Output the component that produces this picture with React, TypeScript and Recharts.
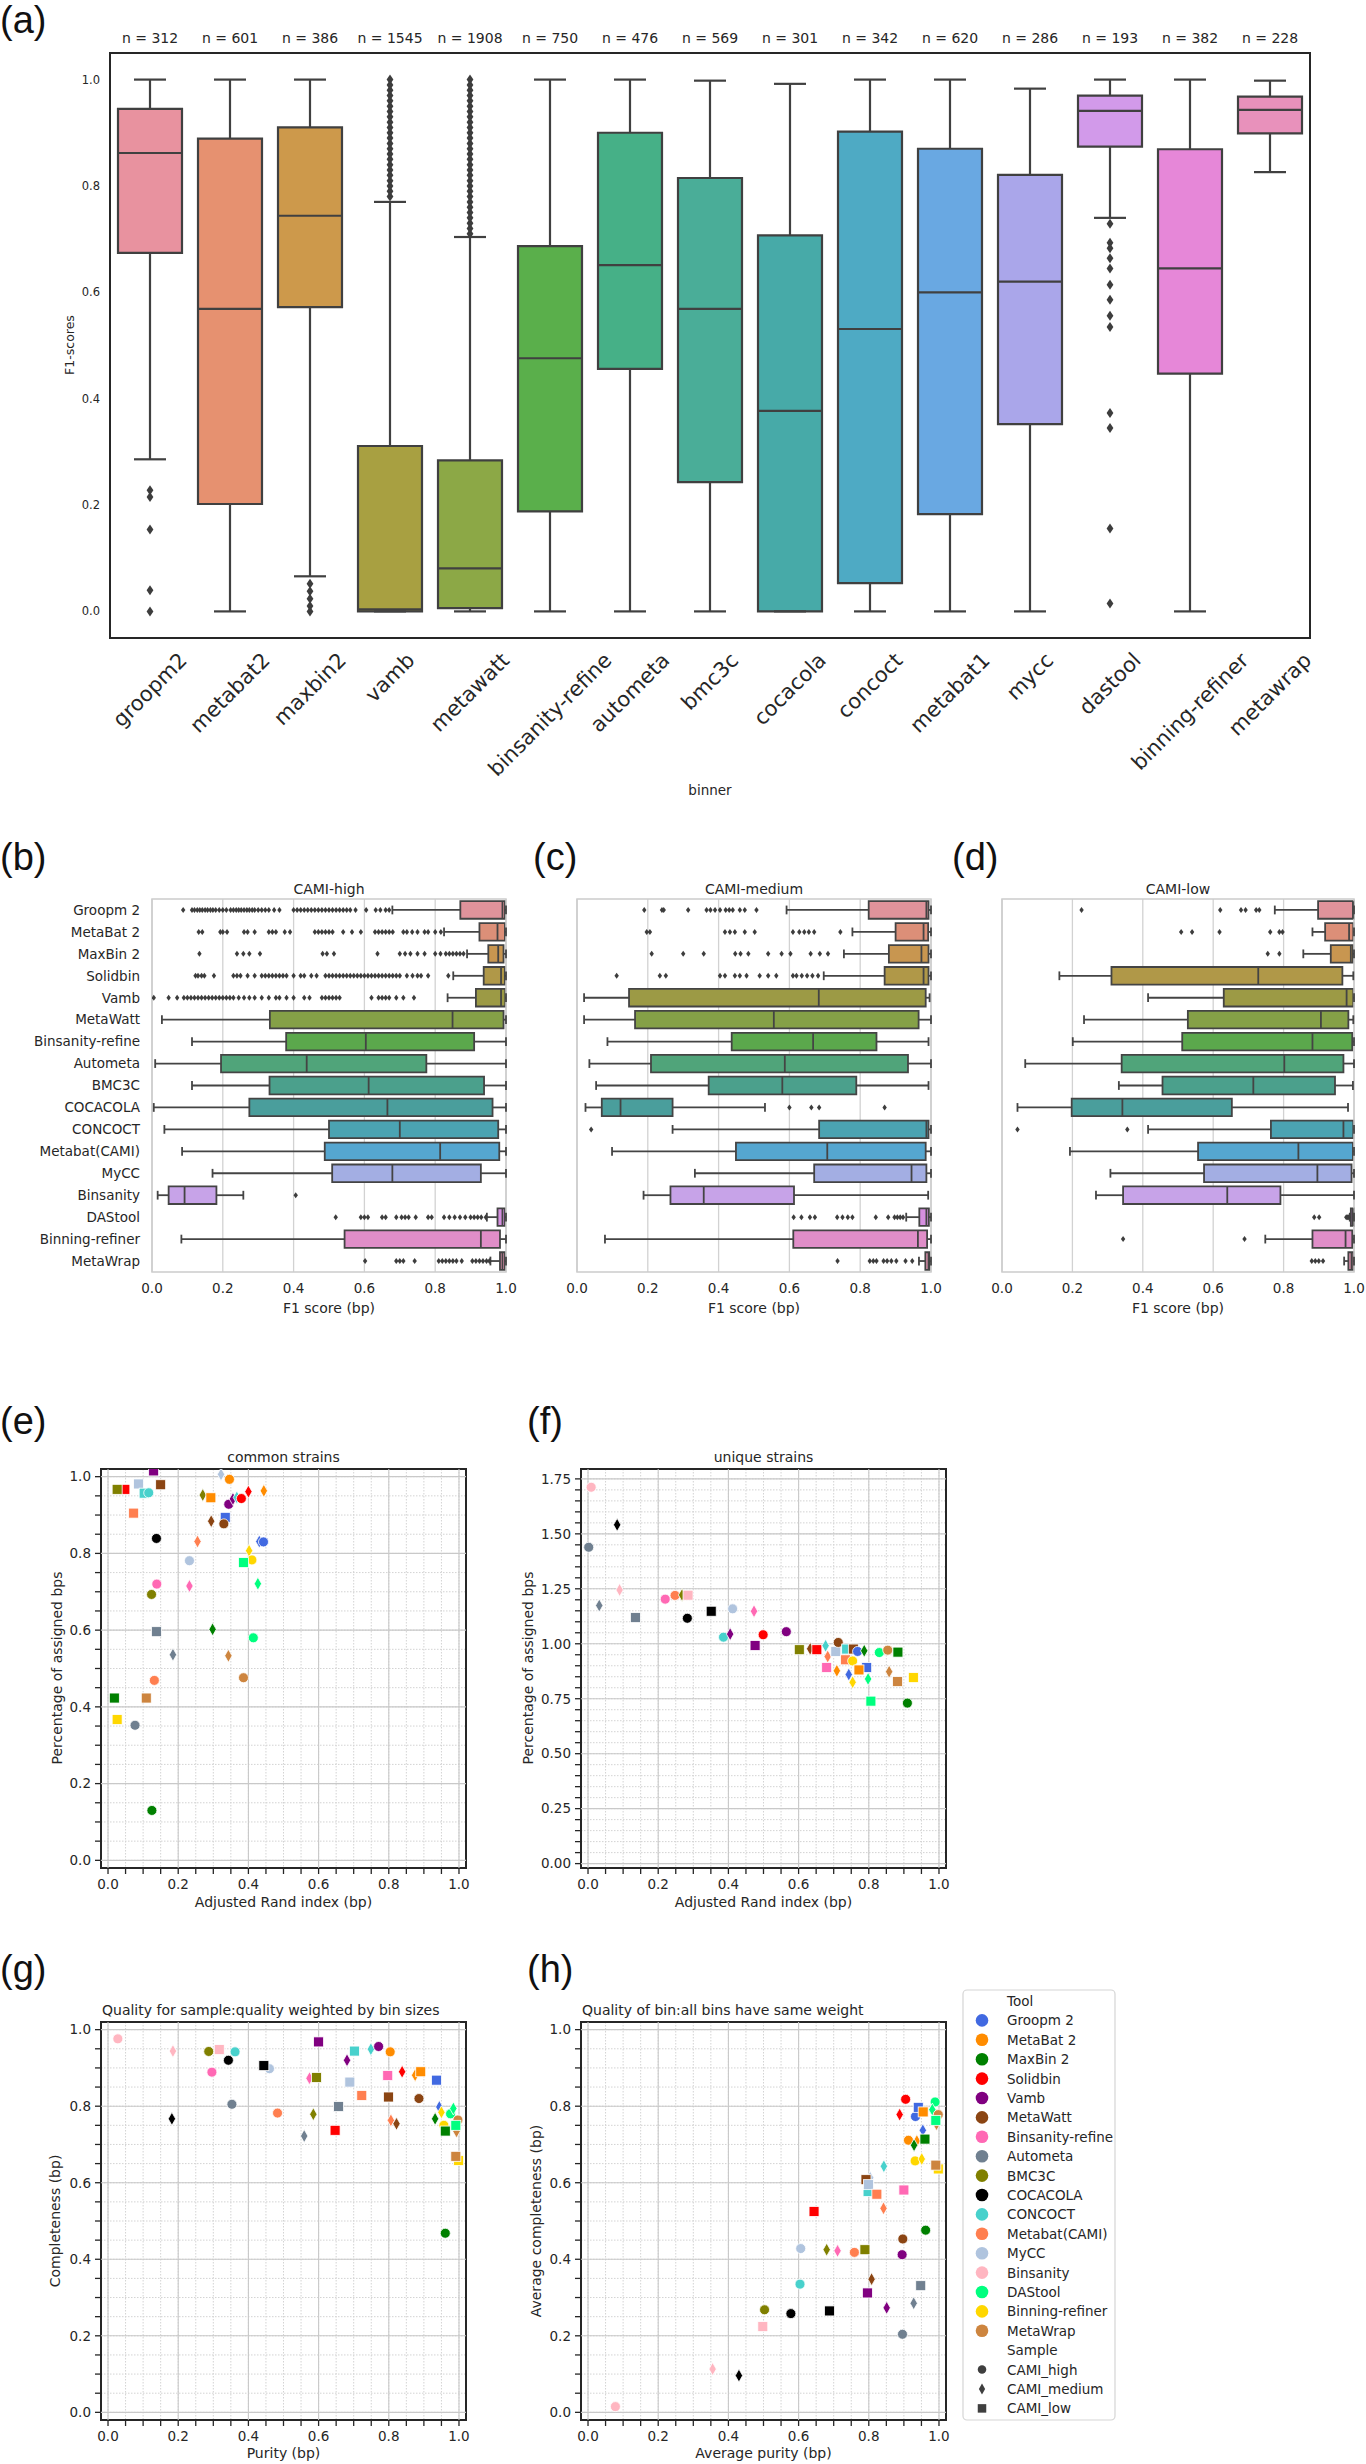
import React from 'react';
import { ScatterChart, Scatter, XAxis, YAxis, ReferenceArea, ReferenceLine, CartesianGrid } from 'recharts';

const FONT = '"DejaVu Sans", sans-serif';
const LETTER_FONT = '"Liberation Sans", Arial, sans-serif';
const INK = '#262626';

// ---------------- Panel (a) ----------------
const A_BINNERS = ['groopm2', 'metabat2', 'maxbin2', 'vamb', 'metawatt', 'binsanity-refine', 'autometa', 'bmc3c', 'cocacola', 'concoct', 'metabat1', 'mycc', 'dastool', 'binning-refiner', 'metawrap'];
const A_COUNTS = [312, 601, 386, 1545, 1908, 750, 476, 569, 301, 342, 620, 286, 193, 382, 228];
const A_LOW = [0.286, 0, 0.066, 0, 0, 0, 0, 0, 0, 0, 0, 0, 0.74, 0, 0.826];
const A_Q1 = [0.674, 0.202, 0.572, 0.0, 0.006, 0.188, 0.456, 0.243, 0.0, 0.053, 0.183, 0.352, 0.874, 0.447, 0.899];
const A_MED = [0.862, 0.569, 0.744, 0.004, 0.081, 0.476, 0.651, 0.569, 0.377, 0.531, 0.6, 0.62, 0.941, 0.645, 0.943];
const A_Q3 = [0.945, 0.889, 0.91, 0.311, 0.284, 0.687, 0.9, 0.815, 0.707, 0.902, 0.87, 0.821, 0.97, 0.869, 0.968];
const A_HIGH = [1.0, 1.0, 1.0, 0.77, 0.704, 1.0, 1.0, 0.998, 0.992, 1.0, 1.0, 0.983, 1.0, 1.0, 0.998];
const A_OUTLIERS: number[][] = [
  [0.228, 0.215, 0.154, 0.04, 0.0],
  [],
  [0.052, 0.038, 0.024, 0.01, 0.0],
  [0.78, 0.79, 0.8, 0.81, 0.82, 0.83, 0.84, 0.85, 0.86, 0.87, 0.88, 0.89, 0.9, 0.91, 0.92, 0.93, 0.94, 0.95, 0.96, 0.97, 0.98, 0.99, 1.0],
  [0.71, 0.72, 0.73, 0.74, 0.75, 0.76, 0.77, 0.78, 0.79, 0.8, 0.81, 0.82, 0.83, 0.84, 0.85, 0.86, 0.87, 0.88, 0.89, 0.9, 0.91, 0.92, 0.93, 0.94, 0.95, 0.96, 0.97, 0.98, 0.99, 1.0],
  [], [], [], [], [], [], [],
  [0.729, 0.693, 0.683, 0.664, 0.645, 0.614, 0.586, 0.556, 0.535, 0.373, 0.345, 0.156, 0.015],
  [], [],
];
const A_COLORS = ['#e8929f', '#e69170', '#cd994b', '#a8a041', '#8ca846', '#5aaf4b', '#46b087', '#4aad98', '#47aaa8', '#4eaac4', '#69a8e2', '#aaa6ea', '#d29aea', '#e687d8', '#e891bb'];
const A_YTICKS = [0, 0.2, 0.4, 0.6, 0.8, 1.0];
const A_IDX = [0, 1, 2, 3, 4, 5, 6, 7, 8, 9, 10, 11, 12, 13, 14];

// ---------------- Panels (b)-(d) ----------------
const TOOLS = ['Groopm 2', 'MetaBat 2', 'MaxBin 2', 'Solidbin', 'Vamb', 'MetaWatt', 'Binsanity-refine', 'Autometa', 'BMC3C', 'COCACOLA', 'CONCOCT', 'Metabat(CAMI)', 'MyCC', 'Binsanity', 'DAStool', 'Binning-refiner', 'MetaWrap'];
const ROW_IDX = [0, 1, 2, 3, 4, 5, 6, 7, 8, 9, 10, 11, 12, 13, 14, 15, 16];
const B_COLORS = ['#e0939b', '#dc8f78', '#c89650', '#b09848', '#9c9a45', '#85a047', '#5ba84c', '#50a47a', '#4ba08c', '#4a9e9c', '#4ba3b2', '#55a6d0', '#a3aee3', '#c7a3e8', '#d58fdf', '#e08ec8', '#e090ae'];
const F1_TICKS = [0, 0.2, 0.4, 0.6, 0.8, 1.0];

const HIGH_LO = [0.679, 0.825, 0.89, 0.851, 0.835, 0.028, 0.113, 0.009, 0.113, 0.005, 0.035, 0.085, 0.171, 0.016, 0.946, 0.083, 0.956];
const HIGH_Q1 = [0.871, 0.925, 0.95, 0.937, 0.915, 0.333, 0.379, 0.195, 0.332, 0.275, 0.5, 0.488, 0.509, 0.047, 0.976, 0.544, 0.983];
const HIGH_MED = [0.99, 0.976, 0.978, 0.986, 0.986, 0.849, 0.604, 0.437, 0.612, 0.665, 0.7, 0.814, 0.679, 0.092, 0.99, 0.929, 0.99];
const HIGH_Q3 = [0.997, 0.997, 0.993, 0.997, 0.998, 0.993, 0.91, 0.775, 0.938, 0.962, 0.978, 0.981, 0.929, 0.182, 0.997, 0.983, 0.997];
const HIGH_HI = [1, 1, 1, 1, 1, 1, 1, 1, 1, 1, 1, 1, 1, 0.258, 1, 1, 1];
const HIGH_OUT: number[][] = [
  [0.088, 0.113, 0.12, 0.128, 0.135, 0.142, 0.15, 0.157, 0.165, 0.172, 0.18, 0.19, 0.2, 0.21, 0.222, 0.23, 0.238, 0.245, 0.252, 0.26, 0.268, 0.275, 0.283, 0.29, 0.3, 0.31, 0.32, 0.33, 0.345, 0.36, 0.4, 0.41, 0.42, 0.43, 0.44, 0.45, 0.46, 0.47, 0.48, 0.49, 0.5, 0.51, 0.52, 0.53, 0.54, 0.55, 0.56, 0.575, 0.605, 0.632, 0.645, 0.66, 0.67],
  [0.132, 0.142, 0.193, 0.2, 0.212, 0.26, 0.27, 0.29, 0.33, 0.34, 0.35, 0.375, 0.39, 0.46, 0.47, 0.48, 0.49, 0.5, 0.51, 0.54, 0.565, 0.59, 0.63, 0.64, 0.65, 0.66, 0.67, 0.68, 0.71, 0.72, 0.735, 0.75, 0.77, 0.78, 0.8, 0.816],
  [0.134, 0.24, 0.258, 0.275, 0.305, 0.482, 0.494, 0.514, 0.637, 0.7, 0.715, 0.73, 0.75, 0.77, 0.8, 0.815, 0.83, 0.84, 0.85, 0.86, 0.87, 0.88],
  [0.123, 0.13, 0.14, 0.148, 0.175, 0.23, 0.24, 0.25, 0.27, 0.29, 0.31, 0.32, 0.33, 0.34, 0.35, 0.36, 0.37, 0.38, 0.4, 0.42, 0.43, 0.45, 0.465, 0.49, 0.5, 0.51, 0.52, 0.53, 0.54, 0.55, 0.56, 0.57, 0.58, 0.59, 0.6, 0.61, 0.62, 0.63, 0.64, 0.65, 0.66, 0.67, 0.68, 0.69, 0.7, 0.72, 0.736, 0.75, 0.76, 0.78, 0.837],
  [0.005, 0.047, 0.071, 0.09, 0.1, 0.11, 0.12, 0.13, 0.14, 0.15, 0.16, 0.17, 0.18, 0.19, 0.2, 0.21, 0.22, 0.23, 0.245, 0.26, 0.275, 0.29, 0.31, 0.33, 0.35, 0.36, 0.38, 0.4, 0.43, 0.445, 0.48, 0.49, 0.5, 0.51, 0.52, 0.53, 0.62, 0.64, 0.65, 0.66, 0.67, 0.69, 0.71, 0.74],
  [], [], [], [], [], [], [], [],
  [0.406],
  [0.519, 0.59, 0.6, 0.61, 0.65, 0.66, 0.69, 0.705, 0.715, 0.725, 0.745, 0.78, 0.79, 0.825, 0.84, 0.855, 0.87, 0.885, 0.9, 0.91, 0.92, 0.93, 0.943],
  [],
  [0.602, 0.69, 0.7, 0.71, 0.742, 0.81, 0.82, 0.83, 0.84, 0.85, 0.86, 0.875, 0.905, 0.915, 0.925, 0.935, 0.945, 0.953],
];

const MED_LO = [0.592, 0.778, 0.754, 0.697, 0.02, 0.02, 0.086, 0.035, 0.054, 0.024, 0.27, 0.099, 0.333, 0.188, 0.93, 0.079, 0.966];
const MED_Q1 = [0.824, 0.9, 0.881, 0.869, 0.147, 0.164, 0.437, 0.209, 0.372, 0.07, 0.684, 0.449, 0.67, 0.264, 0.967, 0.611, 0.984];
const MED_MED = [0.987, 0.979, 0.973, 0.979, 0.683, 0.556, 0.667, 0.587, 0.58, 0.123, 0.987, 0.707, 0.945, 0.358, 0.987, 0.963, 0.993];
const MED_Q3 = [0.993, 0.992, 0.993, 0.993, 0.985, 0.965, 0.846, 0.935, 0.789, 0.27, 0.993, 0.985, 0.987, 0.613, 0.994, 0.989, 0.996];
const MED_HI = [1, 1, 1, 1, 0.996, 1, 0.993, 1, 0.993, 0.531, 1, 1, 1, 0.992, 1, 1, 1];
const MED_OUT: number[][] = [
  [0.19, 0.24, 0.245, 0.314, 0.366, 0.377, 0.39, 0.404, 0.42, 0.43, 0.44, 0.46, 0.474, 0.507],
  [0.197, 0.206, 0.418, 0.432, 0.446, 0.474, 0.502, 0.61, 0.628, 0.642, 0.655, 0.67, 0.744],
  [0.211, 0.3, 0.358, 0.447, 0.462, 0.484, 0.54, 0.578, 0.603, 0.66, 0.686, 0.709],
  [0.112, 0.234, 0.251, 0.404, 0.418, 0.446, 0.46, 0.479, 0.516, 0.54, 0.563, 0.61, 0.62, 0.635, 0.65, 0.665, 0.681],
  [], [], [], [], [],
  [0.6, 0.662, 0.684, 0.869],
  [0.04],
  [], [], [],
  [0.612, 0.634, 0.658, 0.672, 0.735, 0.75, 0.765, 0.778, 0.844, 0.879, 0.897, 0.905, 0.913, 0.921],
  [],
  [0.736, 0.827, 0.837, 0.846, 0.866, 0.876, 0.888, 0.902, 0.928, 0.947],
];

const LOW_LO = [0.775, 0.882, 0.856, 0.163, 0.415, 0.233, 0.201, 0.066, 0.332, 0.044, 0.415, 0.193, 0.308, 0.267, 0.988, 0.748, 0.972];
const LOW_Q1 = [0.898, 0.918, 0.934, 0.311, 0.63, 0.528, 0.512, 0.34, 0.456, 0.198, 0.764, 0.557, 0.574, 0.344, 0.991, 0.882, 0.984];
const LOW_MED = [0.997, 0.986, 0.991, 0.728, 0.979, 0.906, 0.882, 0.802, 0.714, 0.342, 0.97, 0.842, 0.896, 0.64, 0.996, 0.976, 0.993];
const LOW_Q3 = [0.999, 0.998, 0.997, 0.967, 0.998, 0.984, 0.995, 0.97, 0.946, 0.653, 0.998, 0.997, 0.993, 0.791, 1.0, 0.995, 0.998];
const LOW_HI = [1, 1, 1, 0.998, 1, 0.998, 1, 1, 0.997, 0.983, 1, 1, 1, 1, 1, 1, 1];
const LOW_OUT: number[][] = [
  [0.226, 0.62, 0.679, 0.692, 0.722, 0.731],
  [0.509, 0.54, 0.618, 0.762, 0.788, 0.797],
  [0.755, 0.788],
  [], [], [], [], [], [], [],
  [0.044, 0.356],
  [], [], [],
  [0.887, 0.901, 0.978, 0.982, 0.985],
  [0.344, 0.689],
  [0.88, 0.89, 0.9, 0.912],
];

// ---------------- Panels (e)-(h) ----------------
const SCATTER_COLORS = ['#4169e1', '#ff8c00', '#008000', '#ff0000', '#800080', '#8b4513', '#ff69b4', '#708090', '#808000', '#000000', '#48d1cc', '#ff7f50', '#b0c4de', '#ffb6c1', '#00ff7f', '#ffd700', '#cd853f'];
const SAMPLES = ['CAMI_high', 'CAMI_medium', 'CAMI_low'];
const UNIT_MINOR = [0, 0.05, 0.1, 0.15, 0.2, 0.25, 0.3, 0.35, 0.4, 0.45, 0.5, 0.55, 0.6, 0.65, 0.7, 0.75, 0.8, 0.85, 0.9, 0.95, 1.0];
const UNIT_MAJOR = [0, 0.2, 0.4, 0.6, 0.8, 1.0];
const F_MINOR = [0, 0.05, 0.1, 0.15, 0.2, 0.25, 0.3, 0.35, 0.4, 0.45, 0.5, 0.55, 0.6, 0.65, 0.7, 0.75, 0.8, 0.85, 0.9, 0.95, 1.0, 1.05, 1.1, 1.15, 1.2, 1.25, 1.3, 1.35, 1.4, 1.45, 1.5, 1.55, 1.6, 1.65, 1.7, 1.75];
const F_MAJOR = [0, 0.25, 0.5, 0.75, 1.0, 1.25, 1.5, 1.75];

type Pt = [string, string, number, number];
const COMMON_PTS: Pt[] = [
  ['Vamb', 'l', 0.13, 1.015], ['MyCC', 'm', 0.322, 1.006], ['MetaBat 2', 'h', 0.346, 0.993],
  ['Solidbin', 'l', 0.048, 0.967], ['BMC3C', 'l', 0.026, 0.967], ['MyCC', 'l', 0.087, 0.981], ['MetaWatt', 'l', 0.15, 0.979],
  ['CONCOCT', 'l', 0.103, 0.957], ['CONCOCT', 'h', 0.116, 0.958], ['Metabat(CAMI)', 'l', 0.073, 0.905],
  ['BMC3C', 'm', 0.27, 0.952], ['MetaBat 2', 'l', 0.293, 0.945], ['Vamb', 'h', 0.344, 0.928], ['Vamb', 'm', 0.356, 0.942],
  ['CONCOCT', 'm', 0.367, 0.946], ['Solidbin', 'h', 0.38, 0.943], ['Solidbin', 'm', 0.4, 0.961], ['MetaBat 2', 'm', 0.444, 0.963],
  ['Groopm 2', 'l', 0.334, 0.894], ['MetaWatt', 'm', 0.294, 0.884], ['MetaWatt', 'h', 0.33, 0.877], ['COCACOLA', 'h', 0.138, 0.839],
  ['Metabat(CAMI)', 'm', 0.255, 0.831], ['Groopm 2', 'm', 0.431, 0.831], ['Groopm 2', 'h', 0.443, 0.83],
  ['Binning-refiner', 'm', 0.402, 0.807], ['Binning-refiner', 'h', 0.41, 0.783], ['DAStool', 'l', 0.386, 0.776], ['MyCC', 'h', 0.232, 0.781],
  ['Binsanity-refine', 'h', 0.139, 0.72], ['Binsanity-refine', 'm', 0.232, 0.715], ['DAStool', 'm', 0.427, 0.721], ['BMC3C', 'h', 0.124, 0.693],
  ['Autometa', 'l', 0.138, 0.596], ['MaxBin 2', 'm', 0.298, 0.602], ['DAStool', 'h', 0.414, 0.58], ['Autometa', 'm', 0.185, 0.536],
  ['MetaWrap', 'm', 0.343, 0.533], ['Metabat(CAMI)', 'h', 0.132, 0.469], ['MetaWrap', 'h', 0.386, 0.476], ['MaxBin 2', 'l', 0.018, 0.423],
  ['MetaWrap', 'l', 0.109, 0.423], ['Binning-refiner', 'l', 0.026, 0.367], ['Autometa', 'h', 0.077, 0.352], ['MaxBin 2', 'h', 0.125, 0.13],
];
const UNIQUE_PTS: Pt[] = [
  ['Binsanity', 'h', 0.009, 1.712], ['COCACOLA', 'm', 0.083, 1.541], ['Autometa', 'h', 0.002, 1.439], ['Binsanity', 'm', 0.09, 1.245],
  ['Autometa', 'm', 0.032, 1.174], ['Autometa', 'l', 0.135, 1.119], ['Binsanity-refine', 'h', 0.22, 1.203], ['Metabat(CAMI)', 'h', 0.248, 1.22],
  ['BMC3C', 'm', 0.268, 1.222], ['Binsanity', 'l', 0.285, 1.221], ['COCACOLA', 'h', 0.283, 1.116], ['COCACOLA', 'l', 0.351, 1.148],
  ['MyCC', 'h', 0.412, 1.159], ['Binsanity-refine', 'm', 0.473, 1.148], ['CONCOCT', 'h', 0.386, 1.03], ['Vamb', 'm', 0.405, 1.044],
  ['Solidbin', 'h', 0.499, 1.041], ['Vamb', 'l', 0.476, 0.992], ['Vamb', 'h', 0.565, 1.055], ['BMC3C', 'l', 0.602, 0.973],
  ['MetaWatt', 'm', 0.633, 0.977], ['Solidbin', 'l', 0.652, 0.973], ['CONCOCT', 'm', 0.677, 0.991], ['Metabat(CAMI)', 'm', 0.683, 0.942],
  ['MyCC', 'l', 0.706, 0.965], ['MetaWatt', 'h', 0.713, 1.006], ['CONCOCT', 'l', 0.737, 0.976], ['MetaWatt', 'l', 0.756, 0.976],
  ['Groopm 2', 'h', 0.768, 0.965], ['MaxBin 2', 'm', 0.787, 0.968], ['DAStool', 'h', 0.83, 0.96], ['MetaWrap', 'h', 0.854, 0.971],
  ['MaxBin 2', 'l', 0.883, 0.962], ['Binsanity-refine', 'l', 0.68, 0.892], ['MetaBat 2', 'm', 0.709, 0.877], ['Metabat(CAMI)', 'l', 0.734, 0.927],
  ['Binning-refiner', 'h', 0.754, 0.922], ['Groopm 2', 'l', 0.794, 0.892], ['Groopm 2', 'm', 0.743, 0.86], ['MetaBat 2', 'l', 0.772, 0.881],
  ['Binning-refiner', 'm', 0.754, 0.825], ['DAStool', 'm', 0.798, 0.84], ['MetaWrap', 'm', 0.858, 0.873], ['MetaWrap', 'l', 0.882, 0.828],
  ['Binning-refiner', 'l', 0.927, 0.846], ['DAStool', 'l', 0.806, 0.739], ['MaxBin 2', 'h', 0.91, 0.73],
];
const SAMPLE_PTS: Pt[] = [
  ['Binsanity', 'h', 0.028, 0.976], ['Binsanity', 'm', 0.185, 0.944], ['BMC3C', 'h', 0.287, 0.943], ['Binsanity', 'l', 0.317, 0.948],
  ['CONCOCT', 'h', 0.362, 0.942], ['COCACOLA', 'h', 0.343, 0.92], ['Binsanity-refine', 'h', 0.296, 0.889], ['COCACOLA', 'm', 0.182, 0.767],
  ['Autometa', 'h', 0.353, 0.805], ['MyCC', 'h', 0.46, 0.898], ['COCACOLA', 'l', 0.444, 0.906], ['Metabat(CAMI)', 'h', 0.483, 0.782],
  ['Vamb', 'l', 0.6, 0.968], ['Binsanity-refine', 'm', 0.574, 0.873], ['BMC3C', 'l', 0.594, 0.875], ['BMC3C', 'm', 0.585, 0.779],
  ['Autometa', 'm', 0.559, 0.722], ['Autometa', 'l', 0.657, 0.799], ['Solidbin', 'l', 0.647, 0.737], ['MyCC', 'l', 0.689, 0.863],
  ['Vamb', 'm', 0.681, 0.92], ['CONCOCT', 'l', 0.702, 0.944], ['Metabat(CAMI)', 'l', 0.723, 0.828], ['CONCOCT', 'm', 0.749, 0.949],
  ['Vamb', 'h', 0.771, 0.956], ['MetaBat 2', 'h', 0.804, 0.942], ['Binsanity-refine', 'l', 0.797, 0.88], ['MetaWatt', 'l', 0.799, 0.824],
  ['Metabat(CAMI)', 'm', 0.806, 0.763], ['MetaWatt', 'm', 0.822, 0.754], ['Solidbin', 'm', 0.838, 0.89], ['MetaBat 2', 'm', 0.875, 0.881],
  ['MetaBat 2', 'l', 0.891, 0.89], ['MetaWatt', 'h', 0.886, 0.82], ['Groopm 2', 'l', 0.936, 0.868], ['Groopm 2', 'm', 0.944, 0.798],
  ['Binning-refiner', 'm', 0.95, 0.784], ['MaxBin 2', 'm', 0.932, 0.767], ['Binning-refiner', 'h', 0.957, 0.75], ['DAStool', 'h', 0.976, 0.78],
  ['DAStool', 'm', 0.984, 0.794], ['MetaWrap', 'h', 0.997, 0.764], ['MetaWrap', 'm', 0.993, 0.734], ['MaxBin 2', 'l', 0.961, 0.735],
  ['DAStool', 'l', 0.991, 0.75], ['Binning-refiner', 'l', 0.999, 0.658], ['MetaWrap', 'l', 0.991, 0.669], ['MaxBin 2', 'h', 0.961, 0.468],
];
const BIN_PTS: Pt[] = [
  ['Binsanity', 'h', 0.078, 0.015], ['Binsanity', 'm', 0.355, 0.113], ['COCACOLA', 'm', 0.43, 0.096], ['Binsanity', 'l', 0.498, 0.224],
  ['BMC3C', 'h', 0.503, 0.268], ['COCACOLA', 'h', 0.578, 0.258], ['COCACOLA', 'l', 0.688, 0.265], ['CONCOCT', 'h', 0.604, 0.335],
  ['MyCC', 'h', 0.606, 0.428], ['BMC3C', 'm', 0.68, 0.425], ['Binsanity-refine', 'm', 0.711, 0.422], ['Metabat(CAMI)', 'h', 0.759, 0.418],
  ['BMC3C', 'l', 0.789, 0.425], ['Solidbin', 'l', 0.644, 0.525], ['Vamb', 'l', 0.796, 0.312], ['MetaWatt', 'm', 0.808, 0.348],
  ['Vamb', 'm', 0.851, 0.273], ['Autometa', 'h', 0.896, 0.204], ['Autometa', 'm', 0.928, 0.285], ['Autometa', 'l', 0.948, 0.331],
  ['Vamb', 'h', 0.895, 0.412], ['MetaWatt', 'h', 0.897, 0.453], ['MaxBin 2', 'h', 0.962, 0.476], ['CONCOCT', 'm', 0.843, 0.643],
  ['MyCC', 'm', 0.804, 0.613], ['CONCOCT', 'l', 0.798, 0.577], ['MetaWatt', 'l', 0.792, 0.608], ['MyCC', 'l', 0.799, 0.595],
  ['Metabat(CAMI)', 'l', 0.823, 0.57], ['Metabat(CAMI)', 'm', 0.842, 0.533], ['Binsanity-refine', 'l', 0.9, 0.581],
  ['Solidbin', 'h', 0.905, 0.818], ['Solidbin', 'm', 0.888, 0.778], ['Groopm 2', 'h', 0.933, 0.773], ['Groopm 2', 'l', 0.941, 0.797],
  ['MetaBat 2', 'l', 0.955, 0.785], ['Groopm 2', 'm', 0.954, 0.737], ['MetaBat 2', 'h', 0.913, 0.711], ['MetaBat 2', 'm', 0.937, 0.709],
  ['MaxBin 2', 'm', 0.929, 0.698], ['MaxBin 2', 'l', 0.96, 0.714], ['DAStool', 'h', 0.989, 0.811], ['DAStool', 'm', 0.981, 0.791],
  ['MetaWrap', 'h', 0.998, 0.778], ['MetaWrap', 'm', 0.993, 0.753], ['DAStool', 'l', 0.991, 0.763], ['Binning-refiner', 'h', 0.932, 0.657],
  ['Binning-refiner', 'm', 0.951, 0.662], ['Binning-refiner', 'l', 0.998, 0.636], ['MetaWrap', 'l', 0.991, 0.646],
];

// ---------------- helpers ----------------
const TOOL_COLOR: Record<string, string> = {};
TOOLS.forEach((t, i) => { TOOL_COLOR[t] = SCATTER_COLORS[i]; });

let measureCtx: any = null;
function textWidth(s: string, fs: number) {
  if (!measureCtx && typeof document !== 'undefined') {
    const c = document.createElement('canvas');
    measureCtx = c.getContext('2d');
  }
  if (!measureCtx) return s.length * fs * 0.6;
  measureCtx.font = `${fs}px "DejaVu Sans"`;
  return measureCtx.measureText(s).width;
}

const isMult = (v: number, step: number) => Math.abs(v / step - Math.round(v / step)) < 1e-6;

const A_LINE = '#404040';
function vBox(i: number) {
  const lw = 2.2;
  const c = { stroke: A_LINE, strokeWidth: lw, ifOverflow: 'visible' as const };
  return [
    <ReferenceLine key={`a-wl-${i}`} segment={[{ x: i, y: A_LOW[i] }, { x: i, y: A_Q1[i] }]} {...c} />,
    <ReferenceLine key={`a-wh-${i}`} segment={[{ x: i, y: A_Q3[i] }, { x: i, y: A_HIGH[i] }]} {...c} />,
    <ReferenceLine key={`a-cl-${i}`} segment={[{ x: i - 0.2, y: A_LOW[i] }, { x: i + 0.2, y: A_LOW[i] }]} {...c} />,
    <ReferenceLine key={`a-ch-${i}`} segment={[{ x: i - 0.2, y: A_HIGH[i] }, { x: i + 0.2, y: A_HIGH[i] }]} {...c} />,
    <ReferenceArea key={`a-bx-${i}`} x1={i - 0.4} x2={i + 0.4} y1={A_Q1[i]} y2={A_Q3[i]} fill={A_COLORS[i]} fillOpacity={1} stroke={A_LINE} strokeWidth={lw} ifOverflow="visible" />,
    <ReferenceLine key={`a-md-${i}`} segment={[{ x: i - 0.4, y: A_MED[i] }, { x: i + 0.4, y: A_MED[i] }]} {...c} />,
  ];
}

const B_LINE = '#444444';
function hBox(p: string, r: number, lo: number, q1: number, med: number, q3: number, hi: number, color: string) {
  const lw = 1.8;
  const c = { stroke: B_LINE, strokeWidth: lw, ifOverflow: 'visible' as const };
  return [
    <ReferenceLine key={`${p}-wl-${r}`} segment={[{ x: lo, y: r }, { x: q1, y: r }]} {...c} />,
    <ReferenceLine key={`${p}-wh-${r}`} segment={[{ x: q3, y: r }, { x: hi, y: r }]} {...c} />,
    <ReferenceLine key={`${p}-cl-${r}`} segment={[{ x: lo, y: r - 0.2 }, { x: lo, y: r + 0.2 }]} {...c} />,
    <ReferenceLine key={`${p}-ch-${r}`} segment={[{ x: hi, y: r - 0.2 }, { x: hi, y: r + 0.2 }]} {...c} />,
    <ReferenceArea key={`${p}-bx-${r}`} x1={q1} x2={q3} y1={r - 0.4} y2={r + 0.4} fill={color} fillOpacity={1} stroke={B_LINE} strokeWidth={lw} ifOverflow="visible" />,
    <ReferenceLine key={`${p}-md-${r}`} segment={[{ x: med, y: r - 0.4 }, { x: med, y: r + 0.4 }]} {...c} />,
  ];
}

const diamondA = (p: any) => (
  <path d={`M${p.cx},${p.cy - 5}L${p.cx + 3.4},${p.cy}L${p.cx},${p.cy + 5}L${p.cx - 3.4},${p.cy}Z`} fill="#3d3d3d" />
);
const diamondB = (p: any) => (
  <path d={`M${p.cx},${p.cy - 3}L${p.cx + 2.2},${p.cy}L${p.cx},${p.cy + 3}L${p.cx - 2.2},${p.cy}Z`} fill="#3d3d3d" />
);

function markerPath(shape: string, cx: number, cy: number, color: string, stroke: string, scale = 1) {
  if (shape === 'h') return <circle cx={cx} cy={cy} r={5 * scale} fill={color} stroke={stroke} strokeWidth={0.8} />;
  if (shape === 'm') {
    const w = 3.7 * scale, h = 6.5 * scale;
    return <path d={`M${cx},${cy - h}L${cx + w},${cy}L${cx},${cy + h}L${cx - w},${cy}Z`} fill={color} stroke={stroke} strokeWidth={0.8} />;
  }
  const s = 5 * scale;
  return <rect x={cx - s} y={cy - s} width={2 * s} height={2 * s} fill={color} stroke={stroke} strokeWidth={0.8} />;
}
const scatterMarker = (p: any) => markerPath(p.payload.sample, p.cx, p.cy, TOOL_COLOR[p.payload.tool], '#ffffff');

const RotTick = (p: any) => {
  const name = A_BINNERS[Math.round(p.payload.value)];
  const fs = 21;
  const L = textWidth(name, fs);
  const bh = (L + fs * 1.17) * Math.SQRT1_2;
  const cy = p.y + bh / 2;
  return (
    <text x={p.x} y={cy} textAnchor="middle" dominantBaseline="central" fontSize={fs} fontFamily={FONT} fill={INK} transform={`rotate(-45 ${p.x} ${cy})`}>
      {name}
    </text>
  );
};
const NTick = (p: any) => (
  <text x={p.x} y={p.y} textAnchor="middle" fontSize={14} fontFamily={FONT} fill={INK}>
    {`n = ${A_COUNTS[Math.round(p.payload.value)]}`}
  </text>
);

// ---------------- charts ----------------
function PanelA() {
  const outPts: { x: number; y: number }[] = [];
  A_OUTLIERS.forEach((arr, i) => arr.forEach((v) => outPts.push({ x: i, y: v })));
  return (
    <div style={{ position: 'absolute', left: 0, top: 0 }}>
      <ScatterChart width={1366} height={840} margin={{ top: 23, right: 56, bottom: 42, left: 70 }}>
        <XAxis xAxisId={0} type="number" dataKey="x" domain={[-0.5, 14.5]} allowDataOverflow ticks={A_IDX} interval={0}
          tick={(p: any) => <RotTick {...p} />} tickLine={false} axisLine={false} tickSize={0} tickMargin={10} height={160} />
        <XAxis xAxisId="top" orientation="top" type="number" dataKey="x" domain={[-0.5, 14.5]} allowDataOverflow ticks={A_IDX} interval={0}
          tick={(p: any) => <NTick {...p} />} tickLine={false} axisLine={false} tickSize={0} tickMargin={10} height={30} />
        <YAxis type="number" dataKey="y" domain={[-0.05, 1.05]} allowDataOverflow ticks={A_YTICKS} interval={0}
          tickFormatter={(v: number) => v.toFixed(1)} tick={{ fontSize: 11.5, fill: INK, fontFamily: FONT }}
          tickLine={false} axisLine={false} tickSize={0} tickMargin={10} width={40} />
        {A_BINNERS.map((_, i) => vBox(i))}
        <Scatter data={outPts} shape={diamondA} isAnimationActive={false} />
        <ReferenceArea x1={-0.5} x2={14.5} y1={-0.05} y2={1.05} fill="none" stroke={INK} strokeWidth={2} ifOverflow="visible" />
      </ScatterChart>
    </div>
  );
}

function HPanel({ left, width, marginLeft, marginRight, showLabels, prefix, lo, q1, med, q3, hi, outs }: any) {
  const outPts: { x: number; y: number }[] = [];
  (outs as number[][]).forEach((arr, r) => arr.forEach((v) => outPts.push({ x: v, y: r })));
  return (
    <div style={{ position: 'absolute', left, top: 860 }}>
      <ScatterChart width={width} height={462} margin={{ top: 39, right: marginRight, bottom: 10, left: marginLeft }}>
        <CartesianGrid horizontal={false} stroke="#d2d2d2" strokeWidth={1.3} />
        <XAxis type="number" dataKey="x" domain={[0, 1]} allowDataOverflow ticks={F1_TICKS} interval={0}
          tickFormatter={(v: number) => v.toFixed(1)} tick={{ fontSize: 13.5, fill: INK, fontFamily: FONT }}
          tickLine={false} axisLine={false} tickSize={0} tickMargin={11} height={40} />
        <YAxis type="number" dataKey="y" domain={[-0.5, 16.5]} reversed allowDataOverflow ticks={ROW_IDX} interval={0}
          hide={!showLabels} tickFormatter={(v: number) => TOOLS[Math.round(v)]} tick={{ fontSize: 13.5, fill: INK, fontFamily: FONT }}
          tickLine={false} axisLine={false} tickSize={0} tickMargin={12} width={140} />
        {TOOLS.map((_, r) => hBox(prefix, r, lo[r], q1[r], med[r], q3[r], hi[r], B_COLORS[r]))}
        <Scatter data={outPts} shape={diamondB} isAnimationActive={false} />
        <ReferenceArea x1={0} x2={1} y1={-0.5} y2={16.5} fill="none" stroke="#cccccc" strokeWidth={1.5} ifOverflow="visible" />
      </ScatterChart>
    </div>
  );
}

function ScatterPanel({ left, top, yAxisWidth, points, yDomain, yMinor, yMajor, yStep, yDigits }: any) {
  const data = (points as Pt[]).map(([tool, sample, x, y]) => ({ tool, sample, x, y }));
  const height = top < 1900 ? 468 : 465;
  const mTop = top < 1900 ? 29 : 27;
  const plotLeft = left < 400 ? 101 : 581;
  return (
    <div style={{ position: 'absolute', left, top }}>
      <ScatterChart width={480} height={height} margin={{ top: mTop, right: 14, bottom: 10, left: plotLeft - left - yAxisWidth }}>
        <CartesianGrid stroke="#d3d3d3" strokeDasharray="1.5 1.5" strokeWidth={1} />
        <XAxis type="number" dataKey="x" domain={[-0.02, 1.02]} allowDataOverflow ticks={UNIT_MINOR} interval={0}
          tickFormatter={(v: number) => (isMult(v, 0.2) ? v.toFixed(1) : '')} tick={{ fontSize: 13.5, fill: INK, fontFamily: FONT }}
          tickLine={{ stroke: INK, strokeWidth: 1.3 }} axisLine={false} tickSize={6} tickMargin={5} height={30} />
        <YAxis type="number" dataKey="y" domain={yDomain} allowDataOverflow ticks={yMinor} interval={0}
          tickFormatter={(v: number) => (isMult(v, yStep) ? v.toFixed(yDigits) : '')} tick={{ fontSize: 13.5, fill: INK, fontFamily: FONT }}
          tickLine={{ stroke: INK, strokeWidth: 1.3 }} axisLine={false} tickSize={6} tickMargin={4} width={yAxisWidth} />
        {UNIT_MAJOR.map((v) => <ReferenceLine key={`gx${v}`} x={v} stroke="#c9c9c9" strokeWidth={1.1} />)}
        {(yMajor as number[]).map((v) => <ReferenceLine key={`gy${v}`} y={v} stroke="#c9c9c9" strokeWidth={1.1} />)}
        <Scatter data={data} shape={scatterMarker} isAnimationActive={false} />
        <ReferenceArea x1={-0.02} x2={1.02} y1={yDomain[0]} y2={yDomain[1]} fill="none" stroke={INK} strokeWidth={2} ifOverflow="visible" />
      </ScatterChart>
    </div>
  );
}

// ---------------- text overlay & legend ----------------
function Overlay() {
  const t = (x: number, y: number, s: string, extra: any = {}) => (
    <text x={x} y={y} fontFamily={FONT} fontSize={14} fill={INK} textAnchor="middle" {...extra}>{s}</text>
  );
  const vt = (x: number, y: number, s: string, fs = 14) => (
    <text x={x} y={y} fontFamily={FONT} fontSize={fs} fill={INK} textAnchor="middle" dominantBaseline="central" transform={`rotate(-90 ${x} ${y})`}>{s}</text>
  );
  const letter = (x: number, y: number, s: string) => (
    <text x={x} y={y} fontFamily={LETTER_FONT} fontSize={38} fill="#111">{s}</text>
  );
  const rowY = (i: number) => 2001 + i * 19.4;
  return (
    <svg width={1366} height={2464} style={{ position: 'absolute', left: 0, top: 0, pointerEvents: 'none' }}>
      {letter(0, 33, '(a)')}
      {letter(0, 870, '(b)')}
      {letter(533, 870, '(c)')}
      {letter(952, 870, '(d)')}
      {letter(0, 1434, '(e)')}
      {letter(527, 1434, '(f)')}
      {letter(0, 1982, '(g)')}
      {letter(527, 1982, '(h)')}
      {vt(69, 345, 'F1-scores', 12.5)}
      {t(710, 795, 'binner', { fontSize: 13.5 })}
      {t(329, 894, 'CAMI-high')}
      {t(754, 894, 'CAMI-medium')}
      {t(1178, 894, 'CAMI-low')}
      {t(329, 1313, 'F1 score (bp)')}
      {t(754, 1313, 'F1 score (bp)')}
      {t(1178, 1313, 'F1 score (bp)')}
      {t(283.5, 1462, 'common strains')}
      {t(763.5, 1462, 'unique strains')}
      {vt(57, 1668, 'Percentage of assigned bps')}
      {vt(528, 1668, 'Percentage of assigned bps')}
      {t(283.5, 1907, 'Adjusted Rand index (bp)')}
      {t(763.5, 1907, 'Adjusted Rand index (bp)')}
      {t(102, 2015, 'Quality for sample:quality weighted by bin sizes', { textAnchor: 'start' })}
      {t(582, 2015, 'Quality of bin:all bins have same weight', { textAnchor: 'start' })}
      {vt(55, 2221, 'Completeness (bp)')}
      {vt(536, 2221, 'Average completeness (bp)')}
      {t(283.5, 2458, 'Purity (bp)')}
      {t(763.5, 2458, 'Average purity (bp)')}
      <rect x={963} y={1990} width={152} height={430} rx={4} fill="#ffffff" fillOpacity={0.85} stroke="#d5d5d5" strokeWidth={1.2} />
      {t(1007, rowY(0) + 5, 'Tool', { textAnchor: 'start', fontSize: 13.5 })}
      {TOOLS.map((name, i) => (
        <g key={`lg${i}`}>
          <circle cx={982} cy={rowY(i + 1)} r={6.3} fill={SCATTER_COLORS[i]} />
          {t(1007, rowY(i + 1) + 5, name, { textAnchor: 'start', fontSize: 13.5 })}
        </g>
      ))}
      {t(1007, rowY(18) + 5, 'Sample', { textAnchor: 'start', fontSize: 13.5 })}
      {SAMPLES.map((s, i) => (
        <g key={`ls${i}`}>
          {markerPath(['h', 'm', 'l'][i], 982, rowY(19 + i), '#3f3f3f', 'none', 0.85)}
          {t(1007, rowY(19 + i) + 5, s, { textAnchor: 'start', fontSize: 13.5 })}
        </g>
      ))}
    </svg>
  );
}

export default function App() {
  return (
    <div style={{ position: 'absolute', left: 0, top: 0, width: 1366, height: 2464, background: '#ffffff', overflow: 'hidden' }}>
      <PanelA />
      <HPanel left={0} width={530} marginLeft={12} marginRight={24} showLabels prefix="hi" lo={HIGH_LO} q1={HIGH_Q1} med={HIGH_MED} q3={HIGH_Q3} hi={HIGH_HI} outs={HIGH_OUT} />
      <HPanel left={560} width={400} marginLeft={17} marginRight={29} showLabels={false} prefix="md" lo={MED_LO} q1={MED_Q1} med={MED_MED} q3={MED_Q3} hi={MED_HI} outs={MED_OUT} />
      <HPanel left={985} width={381} marginLeft={17} marginRight={12} showLabels={false} prefix="lw" lo={LOW_LO} q1={LOW_Q1} med={LOW_MED} q3={LOW_Q3} hi={LOW_HI} outs={LOW_OUT} />
      <ScatterPanel left={0} top={1440} yAxisWidth={60} points={COMMON_PTS} yDomain={[-0.02, 1.02]} yMinor={UNIT_MINOR} yMajor={UNIT_MAJOR} yStep={0.2} yDigits={1} />
      <ScatterPanel left={480} top={1440} yAxisWidth={70} points={UNIQUE_PTS} yDomain={[-0.02, 1.795]} yMinor={F_MINOR} yMajor={F_MAJOR} yStep={0.25} yDigits={2} />
      <ScatterPanel left={0} top={1995} yAxisWidth={60} points={SAMPLE_PTS} yDomain={[-0.02, 1.02]} yMinor={UNIT_MINOR} yMajor={UNIT_MAJOR} yStep={0.2} yDigits={1} />
      <ScatterPanel left={480} top={1995} yAxisWidth={60} points={BIN_PTS} yDomain={[-0.02, 1.02]} yMinor={UNIT_MINOR} yMajor={UNIT_MAJOR} yStep={0.2} yDigits={1} />
      <Overlay />
    </div>
  );
}
